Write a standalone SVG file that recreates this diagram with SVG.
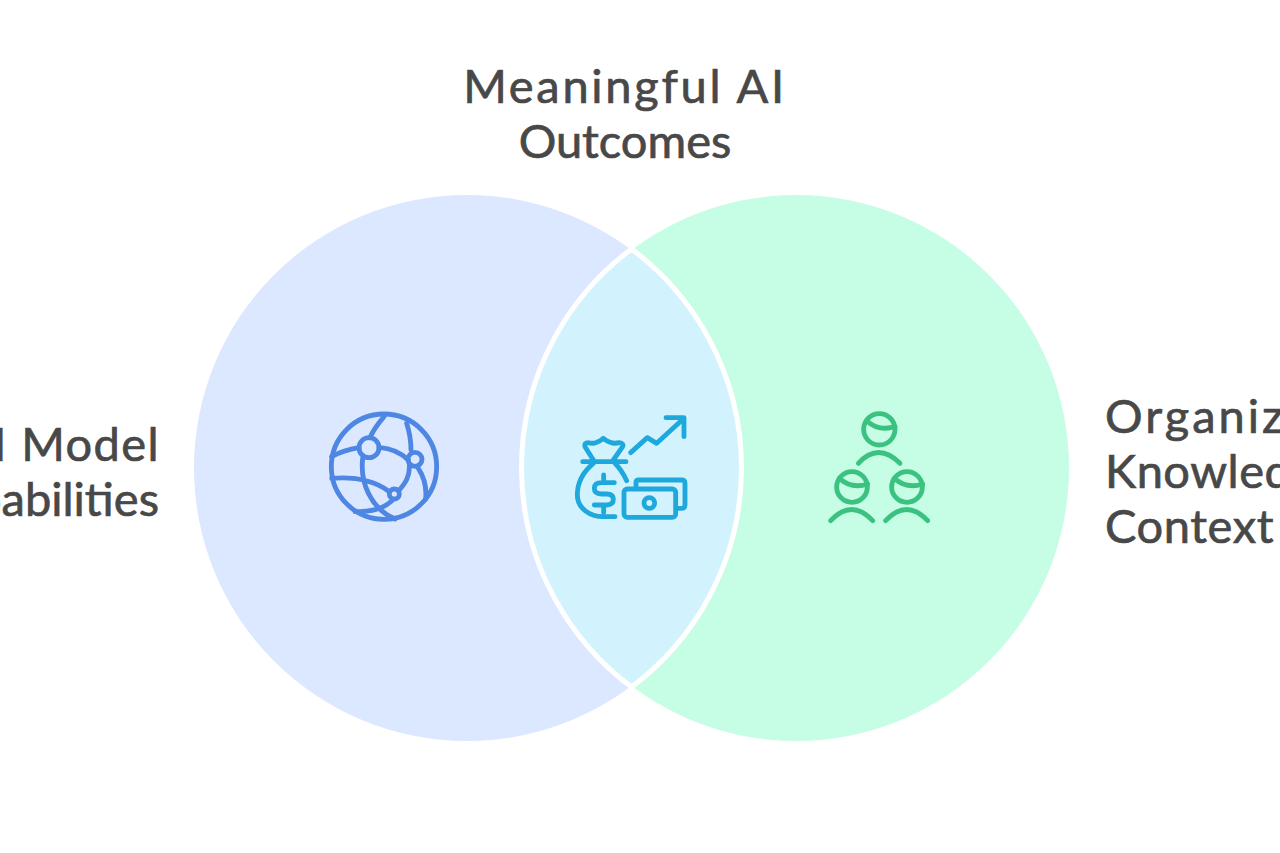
<svg xmlns="http://www.w3.org/2000/svg" width="1280" height="853" viewBox="0 0 1280 853">
<style>
.t{font-family:"Lato","Open Sans",sans-serif;font-size:47px;fill:#484848;stroke:#484848;stroke-width:.7}
.i{fill:none;stroke-width:14.500;stroke-linecap:round;stroke-linejoin:round}
</style>
<rect width="1280" height="853" fill="#ffffff"/>
<g id="circle-left"><circle cx="467" cy="468" r="273" fill="#dce8ff"/></g>
<g id="circle-right"><circle cx="796" cy="468" r="273" fill="#c6fde5"/></g>
<g id="overlap"><path d="M631.500 249 A273 273 0 0 1 631.500 687 A273 273 0 0 1 631.500 249 Z" fill="#d2f3fe" stroke="#ffffff" stroke-width="5"/></g>
<g id="icon-globe" class="i" transform="translate(310 395) scale(.3333)" stroke="#4e86e4">
<circle cx="222" cy="215" r="158"/><circle cx="177" cy="158" r="30"/><circle cx="315" cy="193" r="21"/><circle cx="253" cy="297" r="15"/>
<path d="M222 65C205 85 190 105 180 128M147 158C115 163 88 172 65 185M207 157C245 160 275 175 295 195M290 85C298 110 303 135 303 165M158 190C150 260 180 340 255 372M298 212C300 245 285 265 268 285M325 220C345 250 350 280 347 312M65 250C130 245 190 255 235 288M135 350C180 350 215 345 245 318"/>
</g>
<g id="icon-money" class="i" transform="translate(560 400) scale(.3333)" stroke="#1fa8dc">
<path d="M212 158L262 113L290 130L372 55M318 53H372V110"/>
<path d="M100 180L75 140Q72 128 85 128Q105 135 130 115Q155 135 178 128Q192 130 188 140L160 180M68 185H198M100 190C70 215 52 250 52 285C52 325 90 350 130 350H165M165 190C180 205 192 225 200 242"/>
<path d="M163 248H125Q103 248 103 265Q103 282 125 282H140Q160 282 160 298Q160 315 140 315H103M131 225V248M131 315V338"/>
<rect x="192" y="267" width="155" height="85" rx="10"/>
<path d="M228 262V247Q228 240 236 240H365Q375 240 375 250V315Q375 325 365 325H350"/>
<circle cx="268" cy="309" r="16"/>
</g>
<g id="icon-people" class="i" transform="translate(815 400) scale(.3333)" stroke="#3cc280">
<circle cx="193" cy="88" r="47"/><path d="M155 62Q190 95 240 80M130 190Q190 125 255 190"/>
<circle cx="111" cy="261" r="46"/><path d="M73 235Q110 268 158 252M47 362Q110 295 173 362"/>
<circle cx="276" cy="261" r="46"/><path d="M238 235Q275 268 323 252M212 362Q275 295 338 362"/>
</g>
<g id="label-top"><text class="t" text-anchor="middle" x="625" y="103" letter-spacing="2.700">Meaningful AI</text><text class="t" text-anchor="middle" x="625" y="158">Outcomes</text></g>
<g id="label-left"><text class="t" text-anchor="end" x="160" y="461" letter-spacing="1.400">AI Model</text><text class="t" text-anchor="end" x="159" y="516">Capabilities</text></g>
<g id="label-right"><text class="t" x="1105" y="433" letter-spacing="3">Organizational</text><text class="t" x="1105" y="488" letter-spacing=".5">Knowledge</text><text class="t" x="1105" y="543" letter-spacing=".6">Context</text></g>
</svg>
